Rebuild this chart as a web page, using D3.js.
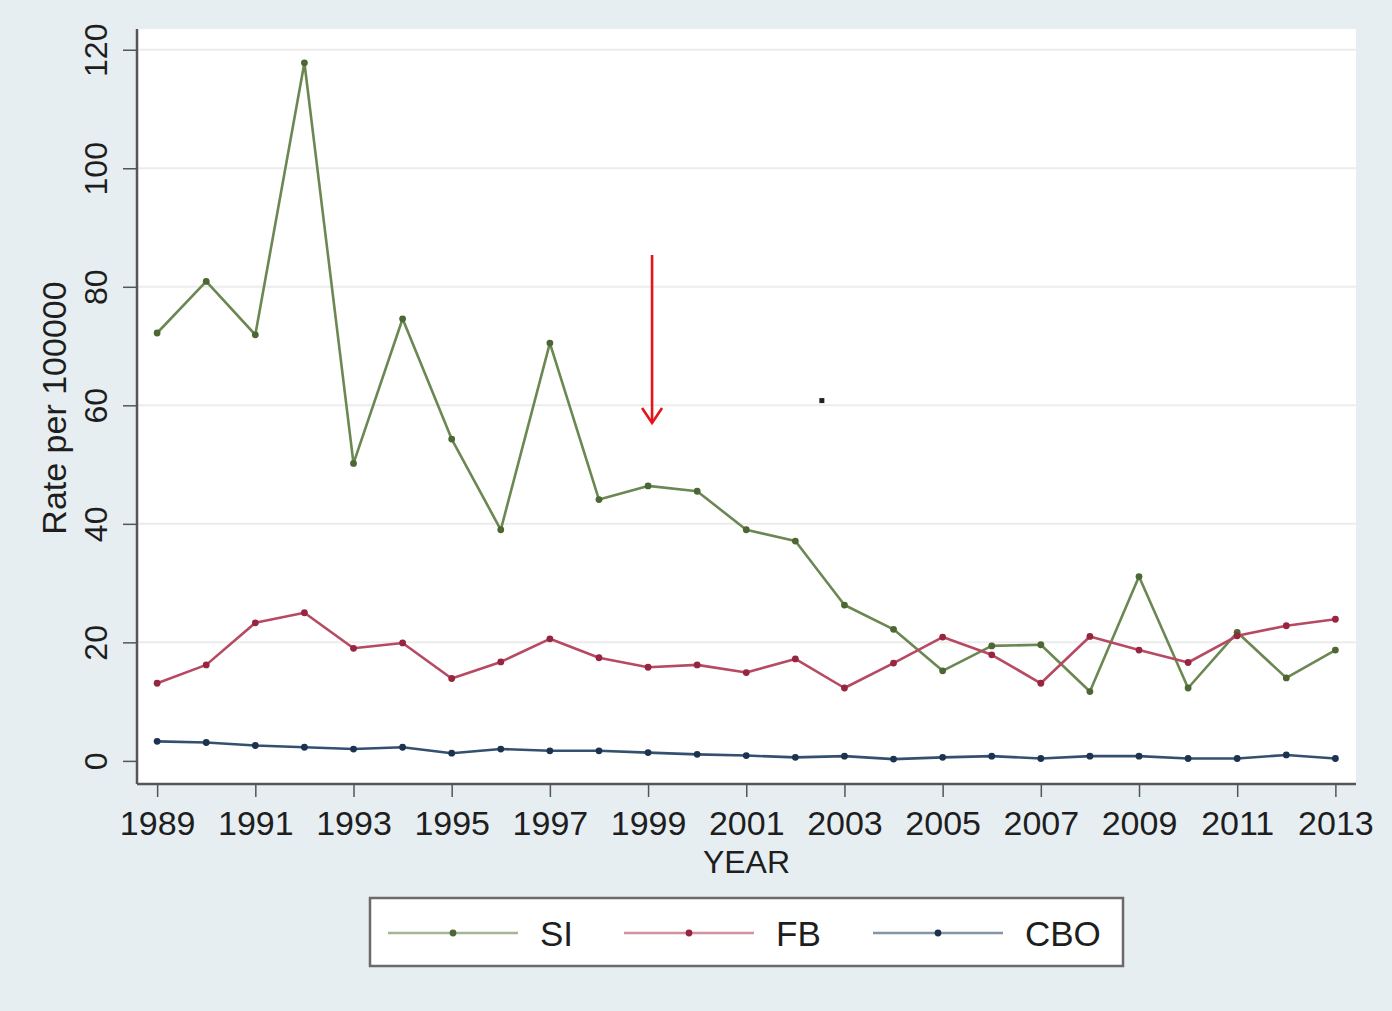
<!DOCTYPE html>
<html>
<head>
<meta charset="utf-8">
<script src="https://cdn.jsdelivr.net/npm/d3@7"></script>
<style>
  html, body { margin: 0; padding: 0; background: #e7eef2; }
  svg { display: block; font-family: "Liberation Sans", Arial, sans-serif; }
</style>
</head>
<body>
<svg id="chart" width="1392" height="1011"></svg>
<script>
// Rates per 100000 by year
const years = [1989, 1990, 1991, 1992, 1993, 1994, 1995, 1996, 1997, 1998, 1999, 2000, 2001,
               2002, 2003, 2004, 2005, 2006, 2007, 2008, 2009, 2010, 2011, 2012, 2013];
const siValues  = [72.2, 80.9, 71.9, 117.8, 50.2, 74.6, 54.3, 39.0, 70.5, 44.1, 46.4, 45.5, 39.0,
                   37.1, 26.3, 22.2, 15.2, 19.4, 19.6, 11.7, 31.1, 12.3, 21.7, 14.0, 18.7];
const fbValues  = [13.1, 16.2, 23.3, 25.0, 19.0, 19.9, 13.9, 16.7, 20.6, 17.4, 15.8, 16.2, 14.9,
                   17.2, 12.3, 16.5, 20.9, 17.9, 13.1, 21.0, 18.7, 16.6, 21.1, 22.8, 23.9];
const cboValues = [3.3, 3.1, 2.6, 2.3, 2.0, 2.3, 1.3, 2.0, 1.7, 1.7, 1.4, 1.1, 0.9,
                   0.6, 0.8, 0.3, 0.6, 0.8, 0.4, 0.8, 0.8, 0.4, 0.4, 1.0, 0.4];
const seriesNames = ["SI", "FB", "CBO"];
const yTicks = [0, 20, 40, 60, 80, 100, 120];
const xTicks = [1989, 1991, 1993, 1995, 1997, 1999, 2001, 2003, 2005, 2007, 2009, 2011, 2013];
// marked year and a lone point between 2002 and 2003
const markedYear = 1999;
const strayPoint = [2002.54, 60.8];

const seriesStyle = {
  SI:  { line: "#6b8752", dot: "#4c6634" },
  FB:  { line: "#b64a62", dot: "#98253f" },
  CBO: { line: "#34506f", dot: "#1c3350" }
};
const seriesValues = { SI: siValues, FB: fbValues, CBO: cboValues };

const svg = d3.select("#chart");
const plot = { left: 137, right: 1356, top: 29, bottom: 784 };

const x = d3.scaleLinear().domain([1988.59, 2013.42]).range([plot.left, plot.right]);
const y = d3.scaleLinear().domain([-3.9, 123.5]).range([plot.bottom, plot.top]);

// plot region
svg.append("rect")
  .attr("x", plot.left).attr("y", plot.top)
  .attr("width", plot.right - plot.left).attr("height", plot.bottom - plot.top)
  .attr("fill", "#ffffff");

// gridlines
svg.append("g").selectAll("line")
  .data(yTicks.filter(d => d > 0))
  .join("line")
  .attr("x1", plot.left).attr("x2", plot.right)
  .attr("y1", d => y(d)).attr("y2", d => y(d))
  .attr("stroke", "#ececec").attr("stroke-width", 2);

// y axis
const yAxis = svg.append("g")
  .attr("transform", `translate(${plot.left},0)`)
  .call(d3.axisLeft(y).tickValues(yTicks).tickSize(14).tickPadding(0).tickFormat(d3.format("d")));
yAxis.select(".domain").attr("d", `M0,${plot.top}V${plot.bottom}`).attr("stroke", "#555").attr("stroke-width", 2.5);
yAxis.selectAll(".tick line").attr("stroke", "#555").attr("stroke-width", 1.5);
yAxis.selectAll(".tick text")
  .attr("x", 0).attr("y", 0).attr("dy", 0)
  .attr("transform", "translate(-30,0) rotate(-90)")
  .attr("text-anchor", "middle")
  .attr("font-size", 32).attr("fill", "#1e1e1e")
  .attr("font-family", "Liberation Sans, Arial, sans-serif");

// x axis
const xAxis = svg.append("g")
  .attr("transform", `translate(0,${plot.bottom})`)
  .call(d3.axisBottom(x).tickValues(xTicks).tickSize(13).tickPadding(0).tickFormat(d3.format("d")));
xAxis.select(".domain").attr("d", `M${plot.left},0H${plot.right}`).attr("stroke", "#555").attr("stroke-width", 2.5);
xAxis.selectAll(".tick line").attr("stroke", "#555").attr("stroke-width", 1.5);
xAxis.selectAll(".tick text")
  .attr("y", 51).attr("dy", 0)
  .attr("font-size", 34).attr("fill", "#1e1e1e")
  .attr("font-family", "Liberation Sans, Arial, sans-serif");

// axis titles
svg.append("text")
  .attr("transform", "translate(66,408) rotate(-90)")
  .attr("text-anchor", "middle").attr("font-size", 34).attr("fill", "#1e1e1e")
  .text("Rate per 100000");
svg.append("text")
  .attr("x", (plot.left + plot.right) / 2).attr("y", 873)
  .attr("text-anchor", "middle").attr("font-size", 32).attr("fill", "#1e1e1e")
  .text("YEAR");

// series
const line = d3.line().x(d => x(d[0])).y(d => y(d[1]));
seriesNames.forEach(name => {
  const pts = years.map((yr, i) => [yr, seriesValues[name][i]]);
  const g = svg.append("g").attr("class", "series-" + name);
  g.append("path").datum(pts)
    .attr("d", line).attr("fill", "none")
    .attr("stroke", seriesStyle[name].line).attr("stroke-width", 2.6)
    .attr("stroke-linejoin", "round");
  g.selectAll("circle").data(pts).join("circle")
    .attr("cx", d => x(d[0])).attr("cy", d => y(d[1])).attr("r", 3.4)
    .attr("fill", seriesStyle[name].dot);
});

// lone point
svg.append("rect")
  .attr("x", x(strayPoint[0]) - 2.5).attr("y", y(strayPoint[1]) - 2.5)
  .attr("width", 5).attr("height", 5).attr("fill", "#222");

// red arrow over the marked year
const ax = x(markedYear) + 4;
const arrowTop = 255, arrowTip = 423;
const arrow = svg.append("g").attr("stroke", "#e5141b").attr("stroke-width", 2.6).attr("fill", "none");
arrow.append("line").attr("x1", ax).attr("x2", ax).attr("y1", arrowTop).attr("y2", arrowTip);
arrow.append("path").attr("d", `M${ax - 10},${arrowTip - 15}L${ax},${arrowTip}L${ax + 10},${arrowTip - 15}`);

// legend
const legend = svg.append("g");
legend.append("rect")
  .attr("x", 370).attr("y", 898).attr("width", 753).attr("height", 68)
  .attr("fill", "#ffffff").attr("stroke", "#6a6a6a").attr("stroke-width", 2.5);
const legendItems = [
  { name: "SI",  x0: 388 },
  { name: "FB",  x0: 624 },
  { name: "CBO", x0: 873 }
];
legendItems.forEach(it => {
  const g = legend.append("g");
  g.append("line")
    .attr("x1", it.x0).attr("x2", it.x0 + 130).attr("y1", 933).attr("y2", 933)
    .attr("stroke", seriesStyle[it.name].line).attr("stroke-width", 2.6).attr("opacity", 0.6);
  g.append("circle").attr("cx", it.x0 + 65).attr("cy", 933).attr("r", 3.4)
    .attr("fill", seriesStyle[it.name].dot);
  g.append("text").attr("x", it.x0 + 152).attr("y", 946)
    .attr("font-size", 35).attr("fill", "#1e1e1e").text(it.name);
});
</script>
</body>
</html>
